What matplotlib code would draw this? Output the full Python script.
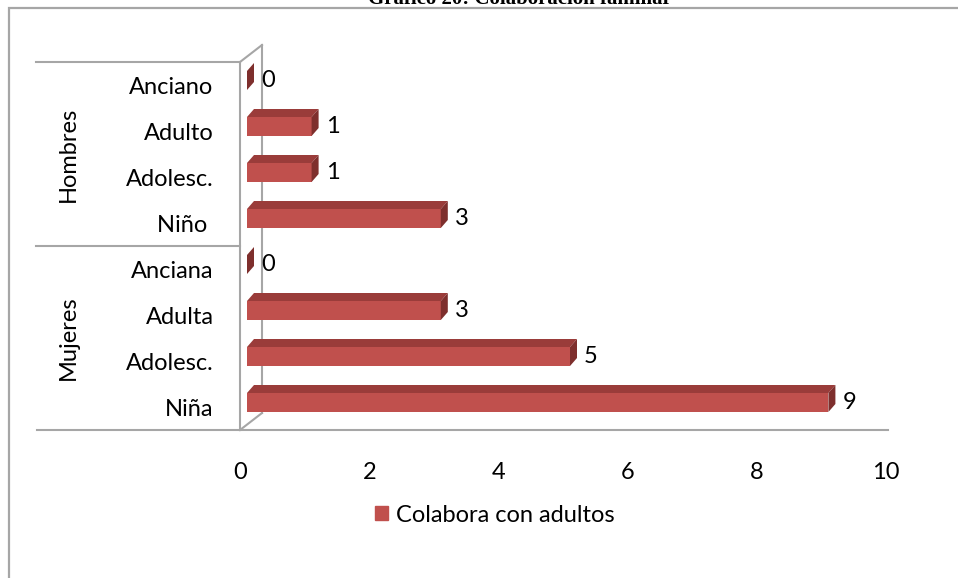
import matplotlib.pyplot as plt
import numpy as np
from matplotlib.patches import Polygon, Rectangle, Patch

plt.rcParams['font.family'] = ['Lato', 'DejaVu Sans']

# datos: de abajo hacia arriba
categorias = ['Niña', 'Adolesc.', 'Adulta', 'Anciana', 'Niño ', 'Adolesc.', 'Adulto', 'Anciano']
valores = [9, 5, 3, 0, 3, 1, 1, 0]
grupos = ['Mujeres', 'Hombres']
serie = 'Colabora con adultos'
ticks_x = [0, 2, 4, 6, 8, 10]
titulo = 'Gráfico 20: Colaboración familiar'

W, H = 958, 578
fig = plt.figure(figsize=(W / 100, H / 100), dpi=100)

# marco gris del grafico
fig.add_artist(Rectangle((9 / W, -0.05), 1.1, 1.05 - 8 / H, transform=fig.transFigure,
                         fill=False, edgecolor='#A6A6A6', lw=1.6))
fig.text(520 / W, 1 - 4 / H, titulo, ha='center', va='baseline', fontsize=15,
         fontweight='bold', family='Liberation Serif')

# zona del grafico (en pixeles: x 240-886, y 62-430)
ax = fig.add_axes([240 / W, 1 - 430 / H, 646 / W, 368 / H])
ax.set_xlim(0, 10)
ax.set_ylim(-0.5, 7.5)
for s in ax.spines.values():
    s.set_visible(False)
ax.patch.set_visible(False)

px = 10 / 646   # un pixel en unidades x
py = 8 / 368    # un pixel en unidades y

gris = '#A6A6A6'
# paredes 3d
ax.plot([0, 0], [-0.5, 7.5], color=gris, lw=1.5, clip_on=False, zorder=1)
ax.plot([0, 22 * px], [7.5, 7.5 + 17 * py], color=gris, lw=1.5, clip_on=False, zorder=1)
ax.plot([22 * px, 22 * px], [7.5 + 17 * py, -0.5 + 17 * py], color=gris, lw=1.5, clip_on=False, zorder=1)
ax.plot([0, 22 * px], [-0.5, -0.5 + 17 * py], color=gris, lw=1.5, clip_on=False, zorder=1)
ax.plot([-203 * px, 10 + 2 * px], [-0.5, -0.5], color=gris, lw=1.5, clip_on=False, zorder=1)
ax.plot([-204 * px, 0], [7.5, 7.5], color=gris, lw=1.5, clip_on=False, zorder=1)
ax.plot([-204 * px, 0], [3.5, 3.5], color=gris, lw=1.5, clip_on=False, zorder=1)

# barras 3d
y = np.arange(len(valores))
frente = '#C0504D'
arriba = '#9A3C3A'
lado = '#7E2F2D'
dx, dy = 7 * px, 8 * py
x0 = 7 * px
yb = y - 0.5 + 18 * py
alto = 19 * py
ax.barh(yb, valores, height=alto, left=x0, align='edge', color=frente, zorder=3)
for yi, v in zip(yb, valores):
    x1 = x0 + v
    yt = yi + alto
    ax.add_patch(Polygon([(x0, yt), (x1, yt), (x1 + dx, yt + dy), (x0 + dx, yt + dy)],
                         closed=True, facecolor=arriba, edgecolor='none', zorder=3))
    ax.add_patch(Polygon([(x1, yi), (x1, yt), (x1 + dx, yt + dy), (x1 + dx, yi + dy)],
                         closed=True, facecolor=lado, edgecolor='none', zorder=3))
    ax.text(x1 + dx + 7 * px, yi + alto / 2, str(v), ha='left', va='center', fontsize=17)

ax.set_yticks(y, categorias, fontsize=17)
ax.set_xticks(ticks_x, [str(t) for t in ticks_x], fontsize=17)
ax.tick_params(axis='y', length=0, pad=19)
ax.tick_params(axis='x', length=0, pad=23)

# etiquetas de grupo
ax.text(-172 * px, 1.5, grupos[0], rotation=90, ha='center', va='center', fontsize=17)
ax.text(-172 * px, 5.5, grupos[1], rotation=90, ha='center', va='center', fontsize=17)

fig.legend(handles=[Patch(color=frente)], labels=[serie], loc='center',
           bbox_to_anchor=(495 / W, 1 - 515 / H), frameon=False, fontsize=17,
           handlelength=0.55, handleheight=0.55, handletextpad=0.35)

fig.savefig('out.png', dpi=100)
